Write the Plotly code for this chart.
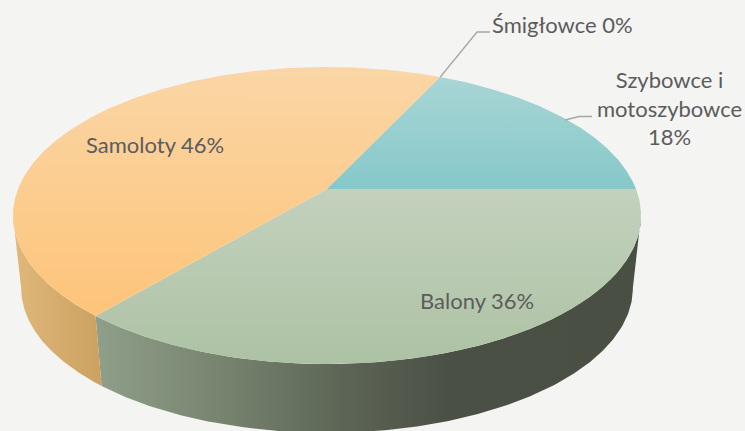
import numpy as np
import plotly.graph_objects as go

categories = ["Balony", "Samoloty", "Śmigłowce", "Szybowce i<br>motoszybowce"]
values = [36.2, 45.8, 0, 18.0]
top_colors = [("#c3d1bd", "#adc2a4"), ("#fad6a6", "#fdc47a"), ("#a9a9a9", "#a9a9a9"), ("#a9d5d5", "#86c8c9")]
side_colors = [
    [[0, "#909f89"], [0.2, "#7a8873"], [0.45, "#5d6656"], [0.65, "#4b5045"], [1, "#4a4f43"]],
    [[0, "#dfb87b"], [1, "#cca160"]],
    None,
    None,
]
label_pos = [(477, 300), (155, 144), (562, 24), (669, 108)]

CX, CY, RX, RY, K = 327.0, 189.0, 309.0, 143.8, -0.1785
DEPTH_Y, SCALE = 73.3, 0.974


def top(theta):
    u, v = np.cos(theta), np.sin(theta)
    d = 1 + K * v
    return CX + RX * u / d, CY + RY * v / d


def bottom(theta):
    x, y = top(theta)
    return CX + (x - CX) * SCALE, CY + DEPTH_Y + (y - CY) * SCALE


grid = np.linspace(-0.6, np.pi + 0.6, 4001)
gx, _ = top(grid)
theta_r, theta_l = grid[np.argmax(gx)], grid[np.argmin(gx)]

fig = go.Figure()
fractions = np.array(values) / sum(values)
edges = np.concatenate([[0], np.cumsum(fractions)]) * 2 * np.pi

# sides (front-facing part of the rim only)
for i in range(len(values)):
    a0, a1 = max(edges[i], theta_r), min(edges[i + 1], theta_l)
    if a1 <= a0 or side_colors[i] is None:
        continue
    t = np.linspace(a0, a1, 200)
    xt, yt = top(t)
    xb, yb = bottom(t[::-1])
    fig.add_trace(go.Scatter(
        x=np.concatenate([xt, xb]), y=np.concatenate([yt, yb]),
        mode="lines", line=dict(width=0), fill="toself", hoverinfo="skip",
        fillgradient=dict(type="horizontal", colorscale=side_colors[i]),
    ))

# top faces
for i in range(len(values)):
    if values[i] < 1:
        continue
    t = np.linspace(edges[i], edges[i + 1], 300)
    xt, yt = top(t)
    fig.add_trace(go.Scatter(
        x=np.concatenate([[CX], xt, [CX]]), y=np.concatenate([[CY], yt, [CY]]),
        mode="lines", line=dict(width=0), fill="toself", hoverinfo="skip",
        fillgradient=dict(type="vertical", colorscale=[[0, top_colors[i][1]], [1, top_colors[i][0]]]),
    ))

# leader lines
x0, y0 = top(edges[2])
fig.add_trace(go.Scatter(x=[x0, 477, 490], y=[y0, 32, 32], mode="lines",
                         line=dict(color="#a6a6a6", width=1.3), hoverinfo="skip"))
fig.add_trace(go.Scatter(x=[565, 579, 592], y=[120, 116.5, 116.5], mode="lines",
                         line=dict(color="#a6a6a6", width=1.3), hoverinfo="skip"))

for i, c in enumerate(categories):
    pct = f"{values[i]:.0f}%"
    fig.add_annotation(x=label_pos[i][0], y=label_pos[i][1], text=f"{c} {pct}" if i != 3 else f"{c}<br>{pct}",
                       showarrow=False, xanchor="center", yanchor="middle",
                       font=dict(family="Lato", size=22, color="#5c5c5c"))

fig.update_layout(
    width=745, height=431, margin=dict(l=0, r=0, t=0, b=0),
    paper_bgcolor="#f4f4f3", plot_bgcolor="#f4f4f3", showlegend=False,
    xaxis=dict(range=[0, 745], visible=False, fixedrange=True),
    yaxis=dict(range=[431, 0], visible=False, fixedrange=True),
)
fig.write_html("out.html", config={"displayModeBar": False},
               post_script="document.body.style.margin='0';document.body.style.overflow='hidden';document.body.style.background='#f4f4f3';")
